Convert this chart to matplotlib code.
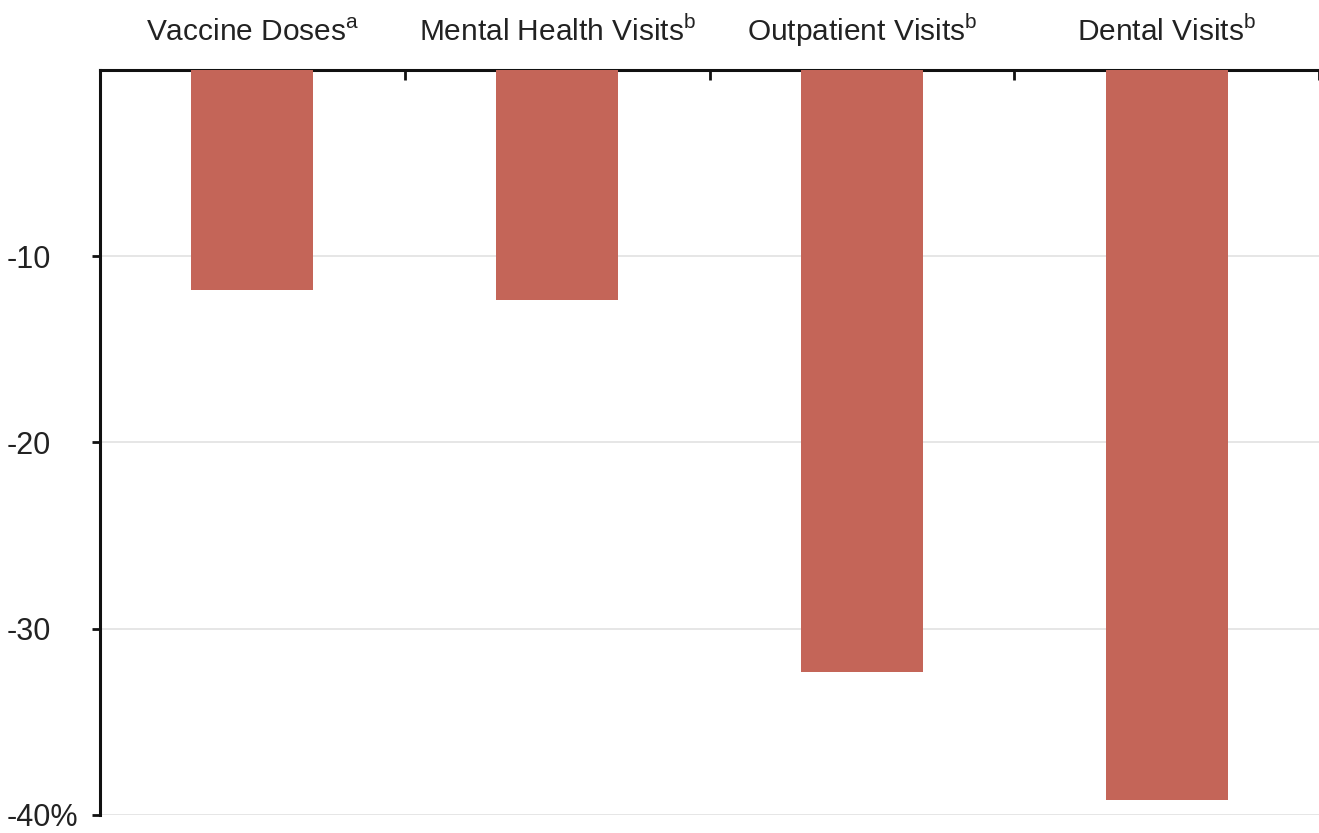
import matplotlib
matplotlib.use("Agg")
import matplotlib.pyplot as plt
from matplotlib.ticker import FixedLocator

plt.rcParams['font.family'] = ['Liberation Sans', 'DejaVu Sans']
plt.rcParams['mathtext.fontset'] = 'custom'
plt.rcParams['mathtext.rm'] = 'Liberation Sans'

categories = ["Vaccine Doses", "Mental Health Visits", "Outpatient Visits", "Dental Visits"]
superscripts = ["a", "b", "b", "b"]
values = [-11.8, -12.35, -32.3, -39.2]
yticks = [-10, -20, -30, -40]
ytick_labels = ["-10", "-20", "-30", "-40%"]

fig = plt.figure(figsize=(13.19, 8.33), dpi=100)
ax = fig.add_axes([100/1319, 1 - 815/833, 1 - 100/1319, (815 - 70)/833])

x = list(range(len(categories)))
ax.bar(x, values, width=0.4, color="#C46558", zorder=3)

ax.set_xlim(-0.5, len(categories) - 0.5)
ax.set_ylim(-40, 0)

ax.set_yticks(yticks)
ax.set_yticklabels(ytick_labels, fontsize=22, color="#222222", ha='left')
ax.yaxis.grid(True, color="#e2e2e2", linewidth=1.2, zorder=0)
ax.tick_params(axis='y', direction='out', length=6, width=2, pad=61, color="#111111")

ax.xaxis.tick_top()
ax.set_xticks(x)
labels = [f"{c}$^{{\\mathregular{{{s}}}}}$" for c, s in zip(categories, superscripts)]
ax.set_xticklabels(labels, fontsize=21.5, color="#222222", va='baseline')
ax.tick_params(axis='x', which='major', length=0, pad=21)
ax.xaxis.set_minor_locator(FixedLocator([i + 0.5 for i in x]))
ax.tick_params(axis='x', which='minor', direction='in', length=7, width=2, color="#111111", top=True, bottom=False)

for s in ["bottom", "right"]:
    ax.spines[s].set_visible(False)
for s in ["top", "left"]:
    ax.spines[s].set_linewidth(2.2)
    ax.spines[s].set_color("#111111")

fig.savefig("out.png", dpi=100)
